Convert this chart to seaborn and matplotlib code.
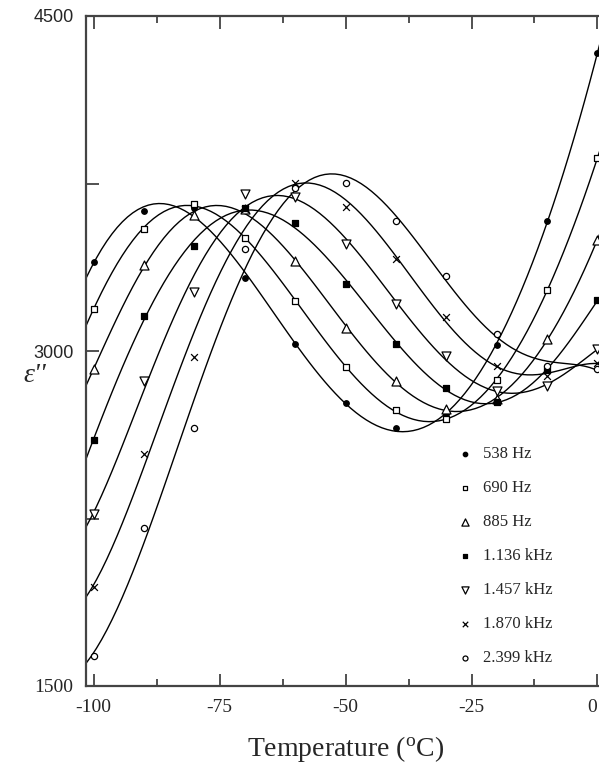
import numpy as np
import pandas as pd
import matplotlib
matplotlib.use("Agg")
import matplotlib.pyplot as plt
import seaborn as sns

sns.set_style('ticks')
plt.rcParams['font.family'] = ['Liberation Serif', 'DejaVu Serif']
plt.rcParams['mathtext.fontset'] = 'custom'
plt.rcParams['mathtext.rm'] = 'Liberation Serif'
plt.rcParams['mathtext.it'] = 'Liberation Serif:italic'

# temperature (C) of the measured points
temps = [-100, -90, -80, -70, -60, -50, -40, -30, -20, -10, 0]

freqs = ['538 Hz', '690 Hz', '885 Hz', '1.136 kHz', '1.457 kHz', '1.870 kHz', '2.399 kHz']

eps_538 = [3397, 3625, 3640, 3327, 3030, 2769, 2654, 2716, 3025, 3584, 4333]
eps_690 = [3189, 3548, 3658, 3506, 3223, 2930, 2736, 2694, 2868, 3275, 3864]
eps_885 = [2918, 3384, 3607, 3636, 3403, 3104, 2865, 2739, 2783, 3052, 3499]
eps_1136 = [2602, 3156, 3469, 3640, 3573, 3302, 3032, 2836, 2771, 2914, 3227]
eps_1457 = [2269, 2865, 3262, 3703, 3690, 3479, 3211, 2977, 2821, 2843, 3010]
eps_1870 = [1942, 2538, 2974, 3636, 3752, 3643, 3412, 3153, 2932, 2890, 2947]
eps_2399 = [1636, 2207, 2657, 3458, 3730, 3752, 3580, 3338, 3077, 2935, 2918]

series = [eps_538, eps_690, eps_885, eps_1136, eps_1457, eps_1870, eps_2399]

# marker, facecolor, size
styles = [('o', 'black', 16), ('s', 'white', 18), ('^', 'white', 42),
          ('s', 'black', 18), ('v', 'white', 42), ('x', 'black', 24),
          ('o', 'white', 20)]

fig = plt.figure(figsize=(5.99, 7.72), dpi=100)
ax = fig.add_axes([86/599, 86/772, 514/599, 670/772])
ax.set_xlim(-101.5, 0.5)
ax.set_ylim(1500, 4500)

for name, vals, (m, fc, s) in zip(freqs, series, styles):
    df = pd.DataFrame({'T': temps, 'eps': vals})
    sns.regplot(data=df, x='T', y='eps', order=6, scatter=False, ci=None,
                truncate=False, color='black', line_kws={'lw': 1.0}, ax=ax)
    if m == 'x':
        sns.scatterplot(data=df, x='T', y='eps', marker=m, s=s, color='black',
                        linewidth=0.9, label=name, ax=ax, zorder=3)
    else:
        sns.scatterplot(data=df, x='T', y='eps', marker=m, s=s, facecolor=fc,
                        edgecolor='black', linewidth=0.9, label=name, ax=ax, zorder=3)

ax.set_xlim(-101.5, 0.5)
ax.set_ylim(1500, 4500)

ax.set_xticks([-100, -75, -50, -25, 0])
ax.set_xticklabels(['-100', '-75', '-50', '-25', '0'])
ax.set_xticks([-87.5, -62.5, -37.5, -12.5], minor=True)
ax.set_yticks([1500, 3000, 4500])
ax.set_yticks([2250, 3750], minor=True)
ax.tick_params(which='both', direction='in', top=True, right=False, width=1.2, color='#333333')
ax.tick_params(axis='x', which='major', length=9, pad=9, labelsize=14)
ax.tick_params(axis='x', which='minor', length=5)
ax.tick_params(axis='y', which='both', length=9, pad=9, labelsize=14)
ax.get_xticklabels()[-1].set_ha('right')
ylabs = ax.get_yticklabels()
for lab in ylabs:
    if lab.get_text() in ('3000', '4500'):
        lab.set_family('Liberation Sans')
        lab.set_fontsize(13)

for sp in ax.spines.values():
    sp.set_linewidth(1.6)
    sp.set_color('#444444')
ax.spines['right'].set_visible(False)

ax.set_xlabel('Temperature ($^{\\mathrm{o}}$C)', fontsize=20)
ax.xaxis.set_label_coords(0.504, -0.072)
ax.set_ylabel("ε''", fontsize=20, style='italic', rotation=0, ha='center', va='center')
ax.yaxis.set_label_coords(-0.099, 0.464)

leg = ax.legend(loc='upper left', bbox_to_anchor=((458 - 86) / 514, (686 - 446) / 670),
                frameon=False, fontsize=12, borderaxespad=0, borderpad=0,
                handlelength=0.8, handletextpad=0.7, labelspacing=1.08, markerscale=0.8)

fig.savefig('out.png', dpi=100, facecolor='white')
